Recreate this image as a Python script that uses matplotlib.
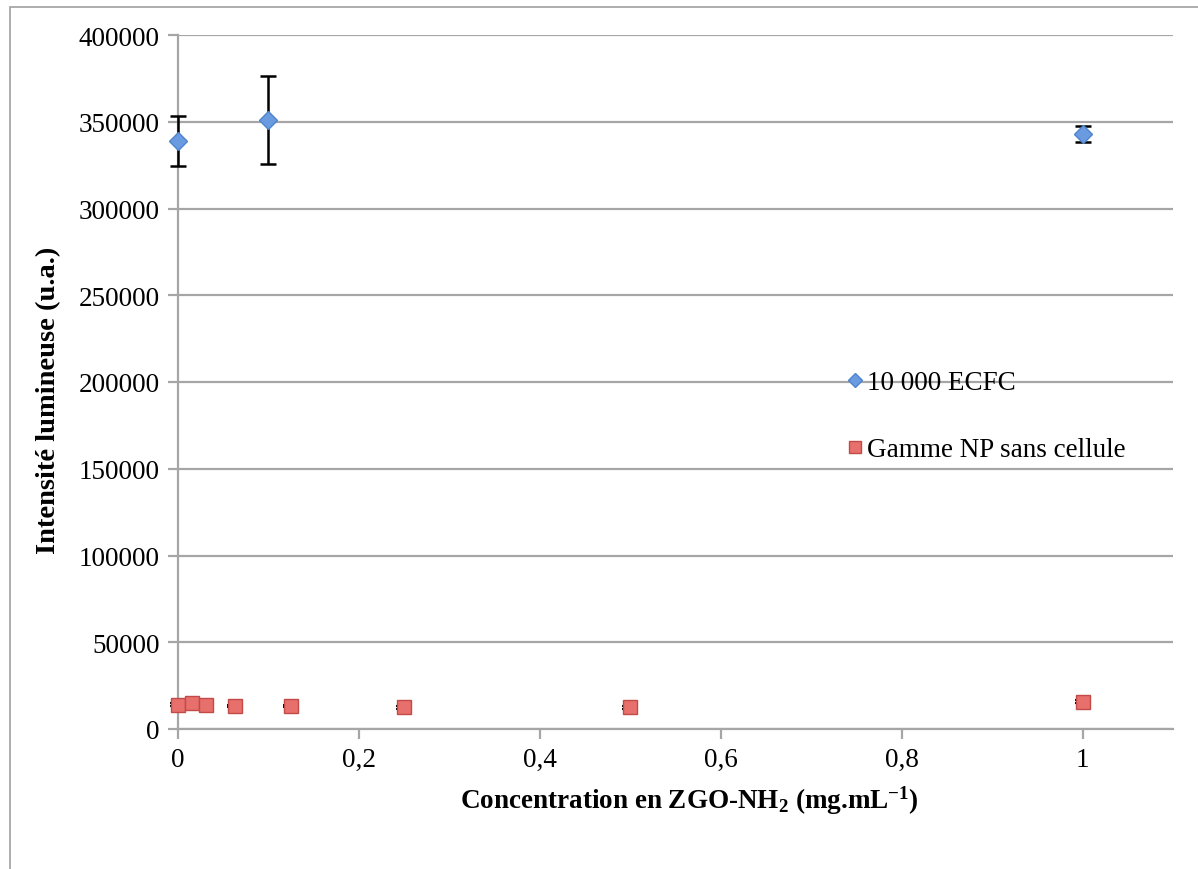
import matplotlib
matplotlib.use("Agg")
import matplotlib.pyplot as plt
from matplotlib.lines import Line2D
from matplotlib.patches import Rectangle
from matplotlib.ticker import FuncFormatter

plt.rcParams['font.family'] = ['Liberation Serif', 'DejaVu Serif']
plt.rcParams['mathtext.fontset'] = 'custom'
plt.rcParams['mathtext.rm'] = 'Liberation Serif:bold'
plt.rcParams['mathtext.default'] = 'rm'

# data
ecfc_x = [0, 0.1, 1]
ecfc_y = [339000, 351000, 343000]
ecfc_err = [14500, 25500, 4500]

np_x = [0, 0.015625, 0.03125, 0.0625, 0.125, 0.25, 0.5, 1]
np_y = [14000, 15000, 13800, 13200, 13300, 12600, 12600, 15800]
np_err = [800, 800, 800, 800, 800, 800, 800, 1000]

blue = '#6a9be0'
red = '#e8706c'

fig = plt.figure(figsize=(11.98, 8.70), dpi=100)
ax = fig.add_axes([178/1198, 1 - 730/870, (1173-178)/1198, (730-36)/870])

# outer chart frame (only left and top edges show)
fig.patches.append(Rectangle((10/1198, -0.1), 1.2, 1.1 - 8/870, transform=fig.transFigure,
                             fill=False, edgecolor='#a0a0a0', linewidth=1.2))

ax.errorbar(ecfc_x, ecfc_y, yerr=ecfc_err, fmt='D', color=blue,
            markeredgecolor='#4f84cc', markersize=9, ecolor='black',
            elinewidth=1.8, capsize=6, capthick=1.8, zorder=3, clip_on=False)
ax.errorbar(np_x, np_y, yerr=np_err, fmt='s', color=red,
            markeredgecolor='#c24a47', markersize=10, ecolor='black',
            elinewidth=1.5, capsize=5.5, capthick=1.5, zorder=3, clip_on=False)

ax.set_xlim(0, 1.1)
ax.set_ylim(0, 400000)
ax.set_xticks([0, 0.2, 0.4, 0.6, 0.8, 1])
ax.set_yticks(range(0, 400001, 50000))
ax.xaxis.set_major_formatter(FuncFormatter(lambda v, p: ('%g' % round(v, 2)).replace('.', ',')))
ax.yaxis.set_major_formatter(FuncFormatter(lambda v, p: '%d' % v))
ax.grid(axis='y', color='#a6a6a6', linewidth=1.6)
ax.set_axisbelow(True)
for s in ['top', 'right']:
    ax.spines[s].set_visible(False)
for s in ['left', 'bottom']:
    ax.spines[s].set_color('#a6a6a6')
    ax.spines[s].set_linewidth(1.6)
ax.tick_params(direction='out', length=7, width=1.6, color='#a6a6a6',
               labelsize=19.5, pad=6)

ax.set_xlabel(r'Concentration en ZGO-NH$_2$ (mg.mL$^{-1}$)', fontsize=19.5,
              fontweight='bold')
ax.xaxis.set_label_coords(0.514, -0.079)
ax.set_ylabel('Intensité lumineuse (u.a.)', fontsize=20.5, fontweight='bold')
ax.yaxis.set_label_coords(-0.117, 0.475)

handles = [Line2D([], [], marker='D', ls='none', color=blue, markeredgecolor='#4f84cc',
                  markersize=7),
           Line2D([], [], marker='s', ls='none', color=red, markeredgecolor='#c24a47',
                  markersize=9)]
labels = ['10 000 ECFC', 'Gamme NP sans cellule']
ax.legend(handles, labels, loc='upper left', bbox_to_anchor=(0.648, 0.548),
          frameon=False, fontsize=19.5, handletextpad=0.05, labelspacing=1.55,
          handlelength=0.8, borderpad=0.3)

fig.savefig('out.png', dpi=100, facecolor='white')
